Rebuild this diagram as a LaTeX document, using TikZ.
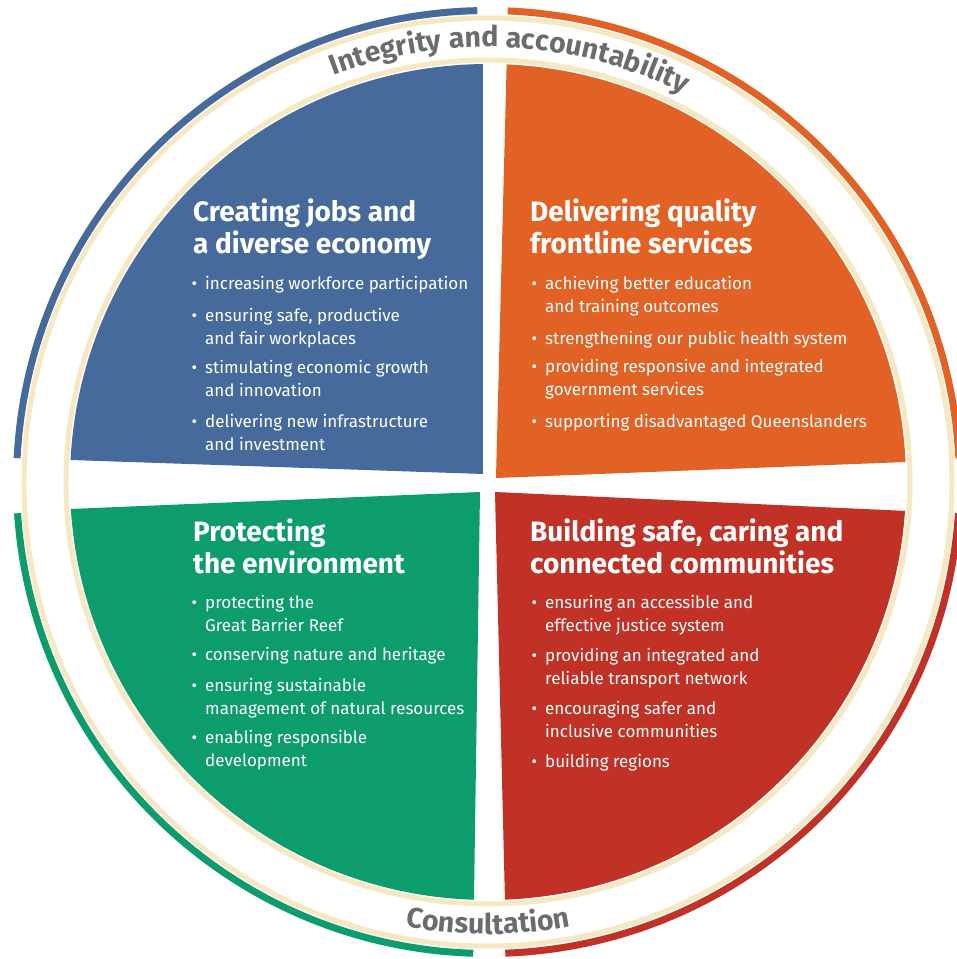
\documentclass[tikz,border=0pt]{standalone}
\usepackage{fontspec}
\setmainfont{Fira Sans}
\usetikzlibrary{decorations.text}

\definecolor{qblue}{HTML}{456A9B}
\definecolor{qorange}{HTML}{E26124}
\definecolor{qgreen}{HTML}{0D9C6C}
\definecolor{qred}{HTML}{C13125}
\definecolor{ringcream}{HTML}{F7E8C4}
\definecolor{arcgrey}{HTML}{6B6C6E}

\newcommand{\arcfont}{\fontsize{28.5}{28.5}\selectfont\bfseries}
\newcommand{\bul}{\llap{\textbullet\hspace{8pt}}}

\tikzset{
	outerband/.style={line width=7pt},
	creamring/.style={draw=ringcream, line width=5pt},
	quadtitle/.style={anchor=base west, inner sep=0pt, align=left, text=white,
		font=\fontsize{28}{32}\selectfont\bfseries},
	quaditem/.style={anchor=base west, inner sep=0pt, align=left, text=white,
		font=\fontsize{17}{23}\selectfont},
}

\begin{document}
\begin{tikzpicture}[x=1pt, y=1pt]
	\useasboundingbox (-488,-477) rectangle (469,482);
	
	% the four quadrants
	\begin{scope}
		\clip (0,0) circle[radius=418];
		\fill[qblue]   (-488,482) -- (-5,482) -- (-5,8) -- (-488,24.4) -- cycle;
		\fill[qorange] (20.3,482) -- (469,482) -- (469,22) -- (8,4) -- cycle;
		\fill[qgreen]  (-488,-29.9) -- (-8,-10) -- (-14.9,-477) -- (-488,-477) -- cycle;
		\fill[qred]    (7,-10) -- (469,-31.3) -- (469,-477) -- (18.4,-477) -- cycle;
	\end{scope}
	
	% rings
	\draw[creamring] (0,0) circle[radius=422];
	\draw[creamring] (0,0) circle[radius=464];
	
	\draw[outerband, qblue]   (91.3:471.5)  arc[start angle=91.3,  end angle=177.1, radius=471.5];
	\draw[outerband, qgreen]  (183.8:471.5) arc[start angle=183.8, end angle=268.2, radius=471.5];
	\draw[outerband, qred]    (272.1:471.5) arc[start angle=272.1, end angle=356.2, radius=471.5];
	\draw[outerband, qorange] (2.9:471.5)   arc[start angle=2.9,   end angle=87.6,  radius=471.5];
	
	% texts on the ring
	\path[decorate, decoration={text along path, text align=center, text color=arcgrey,
		text={|\arcfont|Integrity and accountability}}]
		(135:435) arc[start angle=135, end angle=39, radius=435];
	\path[decorate, decoration={text along path, text align=center, text color=arcgrey,
		text={|\arcfont|Consultation}}]
		(240:452) arc[start angle=240, end angle=300, radius=452];
	
	% jobs (base = last line)
	\node[quadtitle] (jobstitle) at (-295,228) {Creating jobs and\\a diverse economy};
	\node[quaditem] (jobs1) at (-283,192) {\bul increasing workforce participation};
	\node[quaditem] (jobs2) at (-283,138) {\bul ensuring safe, productive\\and fair workplaces};
	\node[quaditem] (jobs3) at (-283,86)  {\bul stimulating economic growth\\and innovation};
	\node[quaditem] (jobs4) at (-283,32)  {\bul delivering new infrastructure\\and investment};
	
	% services
	\node[quadtitle] (servtitle) at (42,228) {Delivering quality\\frontline services};
	\node[quaditem] (serv1) at (57,169) {\bul achieving better education\\and training outcomes};
	\node[quaditem] (serv2) at (57,138) {\bul strengthening our public health system};
	\node[quaditem] (serv3) at (57,87)  {\bul providing responsive and integrated\\government services};
	\node[quaditem] (serv4) at (57,55)  {\bul supporting disadvantaged Queenslanders};
	
	% environment
	\node[quadtitle] (envtitle) at (-295,-91) {Protecting\\the environment};
	\node[quaditem] (env1) at (-283,-149) {\bul protecting the\\Great Barrier Reef};
	\node[quaditem] (env2) at (-283,-178) {\bul conserving nature and heritage};
	\node[quaditem] (env3) at (-283,-232) {\bul ensuring sustainable\\management of natural resources};
	\node[quaditem] (env4) at (-283,-284) {\bul enabling responsible\\development};
	
	% communities
	\node[quadtitle] (commtitle) at (42,-91) {Building safe, caring and\\connected communities};
	\node[quaditem] (comm1) at (57,-149) {\bul ensuring an accessible and\\effective justice system};
	\node[quaditem] (comm2) at (57,-202) {\bul providing an integrated and\\reliable transport network};
	\node[quaditem] (comm3) at (57,-255) {\bul encouraging safer and\\inclusive communities};
	\node[quaditem] (comm4) at (57,-285) {\bul building regions};
\end{tikzpicture}
\end{document}
